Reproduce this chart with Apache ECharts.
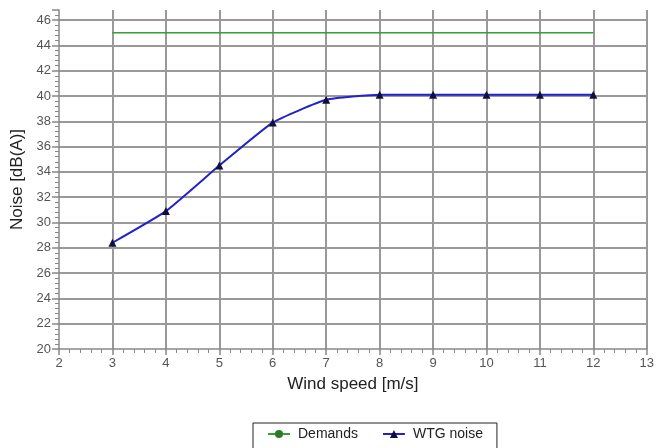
<!DOCTYPE html>
<html>
<head>
<meta charset="utf-8">
<script src="https://cdn.jsdelivr.net/npm/echarts@6/dist/echarts.min.js"></script>
<style>
  html, body { margin: 0; padding: 0; background: #fff; }
  #chart { width: 657px; height: 448px; }
</style>
</head>
<body>
<div id="chart"></div>
<script>
// wind speeds [m/s]
var windSpeed = [3, 4, 5, 6, 7, 8, 9, 10, 11, 12];
// noise limit
var demands = [45, 45, 45, 45, 45, 45, 45, 45, 45, 45];
// turbine noise
var wtgNoise = [28.4, 30.9, 34.5, 37.9, 39.7, 40.1, 40.1, 40.1, 40.1, 40.1];

var labelStyle = { color: '#555', fontSize: 13, fontFamily: 'Liberation Sans' };

var chart = echarts.init(document.getElementById('chart'));
chart.setOption({
    animation: false,
    grid: { left: 59, right: 6, top: 10, bottom: 99 },
    legend: {
        top: 423,
        left: 253,
        borderColor: '#222',
        borderWidth: 1,
        padding: [4, 14, 10, 14],
        itemWidth: 22,
        itemHeight: 10,
        itemGap: 24,
        textStyle: { color: '#222', fontSize: 14, fontFamily: 'Liberation Sans', padding: [0, 0, 0, 3] },
        data: ['Demands', 'WTG noise']
    },
    xAxis: {
        type: 'value',
        min: 2, max: 13, interval: 1,
        name: 'Wind speed [m/s]',
        nameLocation: 'middle',
        nameGap: 27,
        nameTextStyle: { color: '#222', fontSize: 17, fontFamily: 'Liberation Sans' },
        axisLine: { lineStyle: { color: '#888', width: 1.5 } },
        axisTick: { inside: false, length: 6, lineStyle: { color: '#888', width: 1.5 } },
        minorTick: { show: true, splitNumber: 5, length: 4, lineStyle: { color: '#888' } },
        axisLabel: labelStyle,
        splitLine: { show: true, showMinLine: false, lineStyle: { color: '#999', width: 2 } }
    },
    yAxis: {
        type: 'value',
        min: 20, max: 46.8, interval: 2,
        name: 'Noise [dB(A)]',
        nameLocation: 'middle',
        nameGap: 33,
        nameTextStyle: { color: '#222', fontSize: 17, fontFamily: 'Liberation Sans' },
        axisLine: { show: true, lineStyle: { color: '#888', width: 1.5 } },
        axisTick: { show: true, length: 7, lineStyle: { color: '#888', width: 1.5 } },
        minorTick: { show: true, splitNumber: 5, length: 4, lineStyle: { color: '#888' } },
        axisLabel: Object.assign({ showMaxLabel: false }, labelStyle),
        splitLine: { show: true, showMinLine: false, showMaxLine: false, lineStyle: { color: '#999', width: 2 } }
    },
    series: [
        {
            name: 'Demands',
            type: 'line',
            data: windSpeed.map(function (x, i) { return [x, demands[i]]; }),
            symbol: 'circle',
            symbolSize: 6,
            showSymbol: false,
            itemStyle: { color: '#2a7a2a' },
            lineStyle: { color: '#33a033', width: 1.5 }
        },
        {
            name: 'WTG noise',
            type: 'line',
            data: windSpeed.map(function (x, i) { return [x, wtgNoise[i]]; }),
            smooth: 0.15,
            symbol: 'triangle',
            symbolSize: 8,
            itemStyle: { color: '#10103a' },
            lineStyle: { color: '#2222cc', width: 2 }
        }
    ]
});
</script>
</body>
</html>
